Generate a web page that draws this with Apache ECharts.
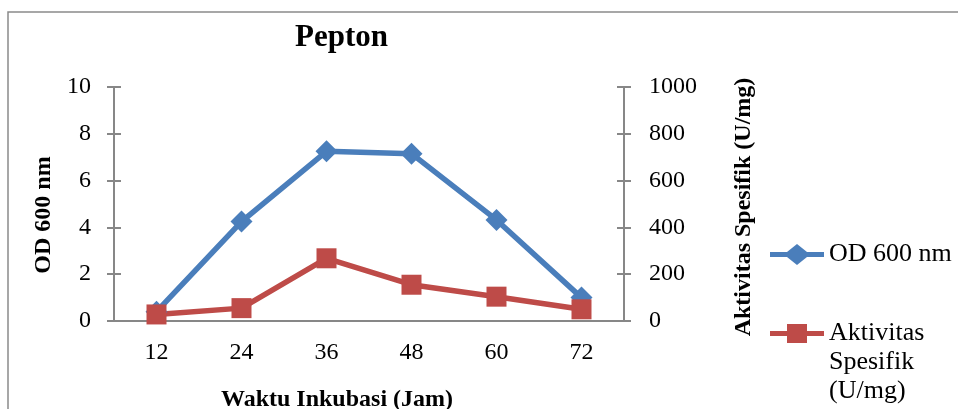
<!DOCTYPE html>
<html>
<head>
<meta charset="utf-8">
<script src="https://cdn.jsdelivr.net/npm/echarts@6/dist/echarts.min.js"></script>
<style>html,body{margin:0;padding:0;background:#fff}#c{width:958px;height:409px}</style>
</head>
<body>
<div id="c"></div>
<script>
var categories = ['12', '24', '36', '48', '60', '72'];
var odValues = [0.4, 4.25, 7.25, 7.15, 4.32, 1.0];
var aktivitasValues = [28, 55, 268, 155, 104, 50];
var leftTicks = [0, 2, 4, 6, 8, 10];
var rightTicks = [0, 200, 400, 600, 800, 1000];

var FONT = "'Liberation Serif', 'Times New Roman', serif";
var AX = '#878787';
var chart = echarts.init(document.getElementById('c'), null, {renderer: 'canvas'});
var gridCfg = {left: 114, right: 334, top: 87, bottom: 88, outerBoundsMode: 'none', containLabel: false};
var yBase = function (pos, ticks, inside) {
  return {
    type: 'value', position: pos,
    min: ticks[0], max: ticks[ticks.length - 1], interval: ticks[1] - ticks[0],
    splitLine: {show: false},
    axisLine: {show: !inside, lineStyle: {color: AX, width: 2}},
    axisTick: {show: true, inside: inside, length: 7, lineStyle: {color: AX, width: 2}},
    axisLabel: {show: !inside, color: '#000', fontFamily: FONT, fontSize: 24, margin: pos === 'left' ? 23 : 25,
      formatter: function (v) { return String(v); }}
  };
};
var yLeft = yBase('left', leftTicks, false);
yLeft.name = 'OD 600 nm';
yLeft.nameLocation = 'middle';
yLeft.nameRotate = 90;
yLeft.nameGap = 56;
yLeft.nameTextStyle = {color: '#000', fontFamily: FONT, fontWeight: 'bold', fontSize: 24, padding: [0, 22, 0, 0]};
var yRight = yBase('right', rightTicks, false);
yRight.name = 'Aktivitas Spesifik (U/mg)';
yRight.nameLocation = 'middle';
yRight.nameRotate = 90;
yRight.nameGap = 108;
yRight.nameTextStyle = {color: '#000', fontFamily: FONT, fontWeight: 'bold', fontSize: 24, padding: [0, 6, 0, 0]};
var yLeftIn = yBase('left', leftTicks, true);
var yRightIn = yBase('right', rightTicks, true);

var iconOD = 'path://M0,8 L17,8 L27,0 L37,8 L54,8 L54,13 L37,13 L27,21 L17,13 L0,13 Z';
var iconAkt = 'path://M0,8 L17,8 L17,1 L37,1 L37,8 L54,8 L54,13 L37,13 L37,20 L17,20 L17,13 L0,13 Z';

var option = {
  backgroundColor: '#fff',
  animation: false,
  title: {
    text: 'Pepton', left: 295, top: 22, padding: 0,
    textStyle: {fontFamily: FONT, fontWeight: 'bold', fontSize: 31, color: '#000'}
  },
  graphic: [{
    type: 'rect', shape: {x: 8, y: 12, width: 1100, height: 600},
    style: {fill: 'none', stroke: '#8a8a8a', lineWidth: 1.5}, silent: true, z: -10
  }],
  legend: [{
    data: [{name: 'OD 600 nm', icon: iconOD}], orient: 'vertical', left: 770, top: 240, padding: 0,
    itemWidth: 54, itemHeight: 21, itemGap: 0,
    textStyle: {fontFamily: FONT, fontSize: 26, color: '#000', lineHeight: 29}
  }, {
    data: [{name: 'Aktivitas Spesifik (U/mg)', icon: iconAkt}], orient: 'vertical', left: 770, top: 261, padding: 0,
    itemWidth: 54, itemHeight: 21, itemGap: 0,
    formatter: function () { return '\n\nAktivitas\nSpesifik\n(U/mg)'; },
    textStyle: {fontFamily: FONT, fontSize: 26, color: '#000', lineHeight: 29}
  }],
  grid: gridCfg,
  xAxis: [{
    type: 'category', data: categories, position: 'bottom',
    name: 'Waktu Inkubasi (Jam)', nameLocation: 'middle', nameGap: 67,
    nameTextStyle: {color: '#000', fontFamily: FONT, fontWeight: 'bold', fontSize: 24, padding: [0, 64, 0, 0]},
    axisLine: {lineStyle: {color: AX, width: 2}},
    axisTick: {length: 8, lineStyle: {color: AX, width: 2}},
    axisLabel: {color: '#000', fontFamily: FONT, fontSize: 24, margin: 20},
    splitLine: {show: false}
  }, {
    type: 'category', data: categories, position: 'bottom',
    axisLine: {show: false},
    axisTick: {inside: true, length: 8, lineStyle: {color: AX, width: 2}},
    axisLabel: {show: false}, splitLine: {show: false}
  }],
  yAxis: [yLeft, yRight, yLeftIn, yRightIn],
  series: [{
    name: 'OD 600 nm', type: 'line', data: odValues, yAxisIndex: 0, xAxisIndex: 0,
    symbol: 'diamond', symbolSize: 22,
    lineStyle: {color: '#4A7EBB', width: 5.5},
    itemStyle: {color: '#4A7EBB'}
  }, {
    name: 'Aktivitas Spesifik (U/mg)', type: 'line', data: aktivitasValues, yAxisIndex: 1, xAxisIndex: 0,
    symbol: 'rect', symbolSize: 20,
    lineStyle: {color: '#BE4B48', width: 5.5},
    itemStyle: {color: '#BE4B48'}
  }]
};
chart.setOption(option);
</script>
</body>
</html>
